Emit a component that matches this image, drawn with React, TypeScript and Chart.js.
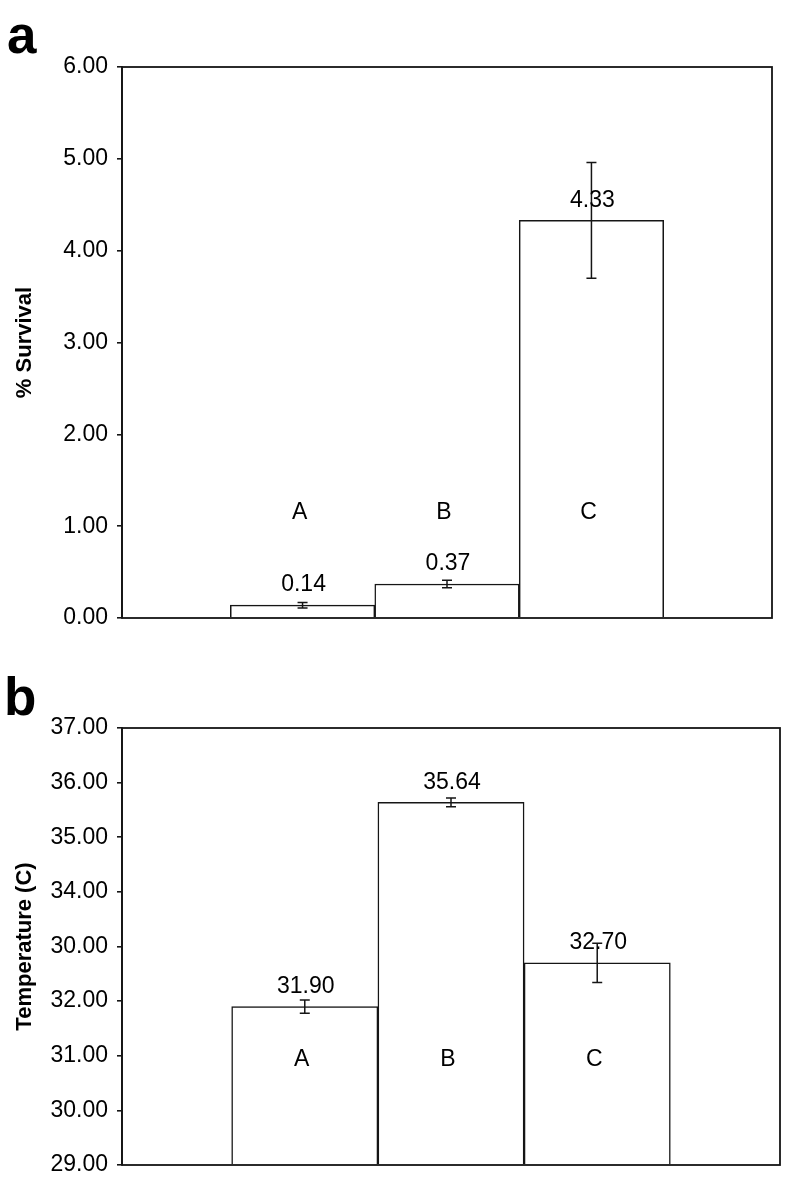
import { useEffect, useRef } from 'react';
import { Chart, registerables } from 'chart.js';

Chart.register(...registerables);

const categories = ['A', 'B', 'C'];

const survivalValues = [0.14, 0.37, 4.33];
const survivalErrors = [0.03, 0.04, 0.63];
const survivalTickLabels = ['0.00', '1.00', '2.00', '3.00', '4.00', '5.00', '6.00'];

const temperatureValues = [31.9, 35.64, 32.7];
const temperatureErrors = [0.12, 0.08, 0.36];
const temperatureTickLabels = ['29.00', '30.00', '31.00', '32.00', '30.00', '34.00', '35.00', '36.00', '37.00'];

const FONT = '"Liberation Sans", Arial, Helvetica, sans-serif';
const INK = '#151515';

const annotPlugin = {
  id: 'annot',
  afterDatasetsDraw(chart: any, _args: any, opts: any) {
    const { ctx, chartArea, scales } = chart;
    const ys = scales.y;
    const meta = chart.getDatasetMeta(0);
    ctx.save();
    ctx.strokeStyle = INK;
    ctx.lineWidth = 1.8;
    ctx.strokeRect(chartArea.left, chartArea.top, chartArea.right - chartArea.left, chartArea.bottom - chartArea.top);
    ctx.lineWidth = 1.5;
    opts.values.forEach((v: number, i: number) => {
      const x = meta.data[i].x;
      const yTop = ys.getPixelForValue(v + opts.errors[i]);
      const yBot = ys.getPixelForValue(v - opts.errors[i]);
      ctx.beginPath();
      ctx.moveTo(x, yTop);
      ctx.lineTo(x, yBot);
      ctx.moveTo(x - 5, yTop);
      ctx.lineTo(x + 5, yTop);
      ctx.moveTo(x - 5, yBot);
      ctx.lineTo(x + 5, yBot);
      ctx.stroke();
      ctx.fillStyle = '#000';
      ctx.font = `23px ${FONT}`;
      ctx.textAlign = 'center';
      ctx.textBaseline = 'middle';
      ctx.fillText(v.toFixed(2), x + 1, ys.getPixelForValue(v) - 20);
      ctx.fillText(opts.categories[i], x - 3, ys.getPixelForValue(opts.letterY));
    });
    ctx.font = `bold 53px ${FONT}`;
    ctx.textAlign = 'left';
    ctx.textBaseline = 'alphabetic';
    ctx.fillStyle = '#000';
    ctx.fillText(opts.panel, opts.panelX, opts.panelY);
    ctx.restore();
  },
};

function makeConfig(
  values: number[],
  errors: number[],
  tickLabels: string[],
  yMin: number,
  yMax: number,
  title: string,
  padding: any,
  panel: string,
  panelX: number,
  panelY: number,
  letterY: number
): any {
  return {
    type: 'bar',
    data: {
      datasets: [
        {
          data: values.map((v, i) => ({ x: i, y: v })),
          backgroundColor: '#ffffff',
          borderColor: INK,
          borderWidth: 1.5,
          base: yMin,
          barPercentage: 1,
          categoryPercentage: 1,
        },
      ],
    },
    options: {
      responsive: false,
      animation: false,
      layout: { padding },
      plugins: {
        legend: { display: false },
        tooltip: { enabled: false },
        annot: { values, errors, categories, panel, panelX, panelY, letterY },
      },
      scales: {
        x: {
          type: 'linear',
          min: -1.25,
          max: 3.25,
          display: false,
          offset: false,
          ticks: { stepSize: 1, includeBounds: false },
        },
        y: {
          min: yMin,
          max: yMax,
          afterFit: (s: any) => {
            s.width = 122;
            s.paddingTop = 0;
            s.paddingBottom = 0;
          },
          ticks: {
            stepSize: 1,
            autoSkip: false,
            callback: (_v: any, i: number) => tickLabels[i],
            font: { size: 23, family: FONT },
            color: '#000',
            padding: 9,
          },
          grid: { drawOnChartArea: false, drawTicks: true, tickLength: 5, color: INK, lineWidth: 1.6 },
          border: { display: true, color: INK, width: 1.8 },
          title: {
            display: true,
            text: title,
            font: { size: 22, weight: 'bold', family: FONT },
            color: '#000',
            padding: { top: 12, bottom: 0 },
          },
        },
      },
    },
    plugins: [annotPlugin],
  };
}

export default function App() {
  const refA = useRef<HTMLCanvasElement>(null);
  const refB = useRef<HTMLCanvasElement>(null);

  useEffect(() => {
    const a = new Chart(
      refA.current as HTMLCanvasElement,
      makeConfig(
        survivalValues,
        survivalErrors,
        survivalTickLabels,
        0,
        6,
        '% Survival',
        { top: 67, bottom: 32, left: 0, right: 14 },
        'a',
        7,
        53,
        1.15
      )
    );
    const b = new Chart(
      refB.current as HTMLCanvasElement,
      makeConfig(
        temperatureValues,
        temperatureErrors,
        temperatureTickLabels,
        29,
        37,
        'Temperature (C)',
        { top: 78, bottom: 16, left: 0, right: 6 },
        'b',
        4,
        65,
        30.92
      )
    );
    return () => {
      a.destroy();
      b.destroy();
    };
  }, []);

  return (
    <div style={{ position: 'absolute', left: 0, top: 0, width: 786, height: 1181, background: '#fff', overflow: 'hidden' }}>
      <canvas
        ref={refA}
        width={786}
        height={650}
        style={{ position: 'absolute', left: 0, top: 0, width: 786, height: 650, display: 'block' }}
      />
      <canvas
        ref={refB}
        width={786}
        height={531}
        style={{ position: 'absolute', left: 0, top: 650, width: 786, height: 531, display: 'block' }}
      />
    </div>
  );
}
